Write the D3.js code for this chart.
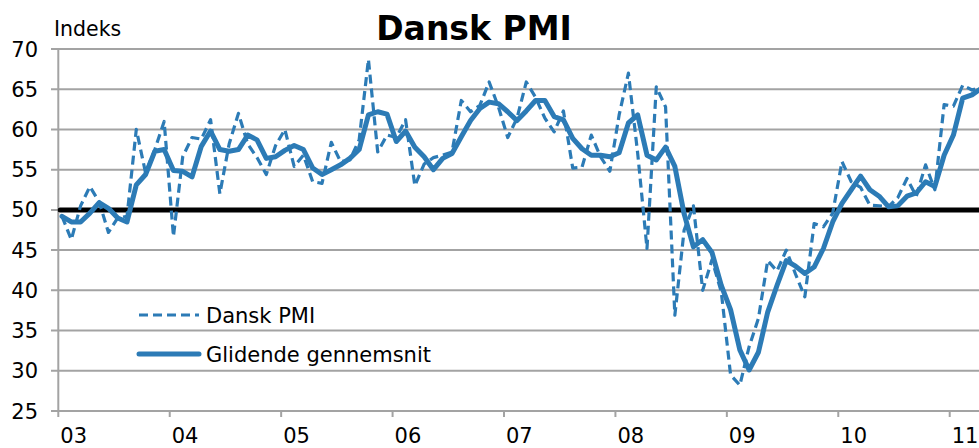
<!DOCTYPE html>
<html>
<head>
<meta charset="utf-8">
<script src="https://cdn.jsdelivr.net/npm/d3@7"></script>
<style>
  body { margin: 0; background: #fff; }
  svg { display: block; font-family: "DejaVu Sans", Verdana, sans-serif; }
</style>
</head>
<body>
<script>
// monthly data, jan 2003 - apr 2011
var startYear = 2003
var dansk_pmi = [
  49.2, 46.3, 50.5, 52.9, 51.0, 47.2, 49.0, 49.2, 60.0, 54.6, 57.5, 61.0,
  46.7, 56.6, 59.0, 58.8, 61.2, 52.0, 58.2, 62.0, 58.2, 56.5, 54.4, 58.0,
  60.0, 55.4, 56.8, 53.5, 53.3, 58.4, 56.0, 56.2, 58.7, 68.7, 57.2, 59.3,
  59.0, 61.2, 53.0, 55.7, 56.5, 56.8, 57.2, 63.6, 62.2, 63.0, 65.9, 62.8,
  59.0, 61.4, 65.9, 64.0, 61.4, 59.7, 62.3, 55.2, 55.3, 59.3, 56.6, 54.8,
  61.8, 67.0, 57.0, 45.2, 65.3, 62.8, 36.9, 47.5, 50.5, 40.0, 43.8, 39.8,
  29.5, 28.2, 33.0, 36.5, 43.7, 42.4, 45.0, 42.0, 39.2, 48.3, 47.9, 49.6,
  56.0, 53.5, 52.8, 50.6, 50.5, 50.4, 51.5, 53.9, 51.7, 55.6, 52.5, 63.1,
  62.9, 65.5, 64.9, 65.3
]
var glidende = [
  49.2, 48.5, 48.5, 49.6, 50.9, 50.2, 49.0, 48.5, 53.1, 54.4, 57.3, 57.5,
  54.9, 54.8, 54.1, 57.9, 59.8, 57.5, 57.3, 57.5, 59.3, 58.7, 56.4, 56.6,
  57.4, 58.0, 57.5, 55.2, 54.4, 55.0, 55.6, 56.4, 57.5, 61.8, 62.2, 61.9,
  58.5, 59.8, 57.8, 56.6, 55.0, 56.4, 57.0, 59.1, 61.1, 62.6, 63.4, 63.2,
  62.2, 61.1, 62.3, 63.6, 63.6, 61.6, 61.2, 58.9, 57.6, 56.8, 56.8, 56.6,
  57.1, 60.8, 61.8, 56.8, 56.2, 57.8, 55.4, 49.5, 45.4, 46.3, 44.7, 40.6,
  37.6, 32.6, 30.1, 32.3, 37.3, 40.6, 43.7, 43.0, 42.1, 42.9, 45.2, 48.5,
  50.8, 52.5, 54.2, 52.5, 51.7, 50.4, 50.5, 51.7, 52.1, 53.5, 52.9, 56.8,
  59.3, 63.9, 64.3, 65.1
]
var yearLabels = ["03", "04", "05", "06", "07", "08", "09", "10", "11"]
var yTicks = [25, 30, 35, 40, 45, 50, 55, 60, 65, 70]

var width = 979, height = 448
var blue = "#2c7bb6"

var svg = d3.select("body").append("svg")
  .attr("width", width)
  .attr("height", height)

// x in months since jan 2003, y in index points
var x = d3.scaleLinear().domain([0, 96]).range([58.3, 949.7])
var y = d3.scaleLinear().domain([25, 70]).range([411, 49])

// gridlines
svg.append("g")
  .selectAll("line")
  .data(yTicks)
  .join("line")
  .attr("x1", 51)
  .attr("x2", width)
  .attr("y1", d => y(d))
  .attr("y2", d => y(d))
  .attr("stroke", "#a3a3a3")
  .attr("stroke-width", 2)

// y axis line
svg.append("line")
  .attr("x1", x(0)).attr("x2", x(0))
  .attr("y1", y(70)).attr("y2", y(25))
  .attr("stroke", "#a3a3a3")
  .attr("stroke-width", 2)

// x ticks
svg.append("g")
  .selectAll("line")
  .data(yearLabels)
  .join("line")
  .attr("x1", (d, i) => x(i * 12))
  .attr("x2", (d, i) => x(i * 12))
  .attr("y1", y(25))
  .attr("y2", y(25) + 6)
  .attr("stroke", "#a3a3a3")
  .attr("stroke-width", 2)

// y labels
svg.append("g")
  .selectAll("text")
  .data(yTicks)
  .join("text")
  .attr("x", 38)
  .attr("y", d => y(d))
  .attr("dy", "0.36em")
  .attr("text-anchor", "end")
  .attr("font-size", 21)
  .attr("fill", "#000")
  .text(d => d)

// x labels (sit right at the bottom edge, as in the original)
svg.append("g")
  .selectAll("text")
  .data(yearLabels)
  .join("text")
  .attr("x", (d, i) => x(i * 12) + 2)
  .attr("y", 443)
  .attr("font-size", 21)
  .attr("fill", "#000")
  .text(d => d)

// 50 line
svg.append("line")
  .attr("x1", x(0.2))
  .attr("x2", width + 5)
  .attr("y1", y(50))
  .attr("y2", y(50))
  .attr("stroke", "#000")
  .attr("stroke-width", 5)
  .attr("stroke-linecap", "round")

var line = d3.line()
  .x((d, i) => x(i + 0.4))
  .y(d => y(d))

svg.append("path")
  .datum(dansk_pmi)
  .attr("d", line)
  .attr("fill", "none")
  .attr("stroke", blue)
  .attr("stroke-width", 3.2)
  .attr("stroke-dasharray", "9,5")
  .attr("stroke-linejoin", "round")

svg.append("path")
  .datum(glidende)
  .attr("d", line)
  .attr("fill", "none")
  .attr("stroke", blue)
  .attr("stroke-width", 5)
  .attr("stroke-linejoin", "round")
  .attr("stroke-linecap", "round")

// title + unit
svg.append("text")
  .attr("x", 474)
  .attr("y", 39.5)
  .attr("text-anchor", "middle")
  .attr("font-size", 33)
  .attr("font-weight", "bold")
  .text("Dansk PMI")

svg.append("text")
  .attr("x", 54)
  .attr("y", 36)
  .attr("font-size", 20.5)
  .text("Indeks")

// legend
var legend = [
  {name: "Dansk PMI", dash: "9,5", w: 3.2, ly: 315},
  {name: "Glidende gennemsnit", dash: null, w: 5, ly: 354}
]
var lg = svg.append("g")
lg.selectAll("line")
  .data(legend)
  .join("line")
  .attr("x1", 139).attr("x2", 199)
  .attr("y1", d => d.ly).attr("y2", d => d.ly)
  .attr("stroke", blue)
  .attr("stroke-width", d => d.w)
  .attr("stroke-dasharray", d => d.dash)
  .attr("stroke-linecap", d => d.dash ? "butt" : "round")
lg.selectAll("text")
  .data(legend)
  .join("text")
  .attr("x", 206)
  .attr("y", d => d.ly)
  .attr("dy", "0.36em")
  .attr("font-size", 21)
  .text(d => d.name)
</script>
</body>
</html>
